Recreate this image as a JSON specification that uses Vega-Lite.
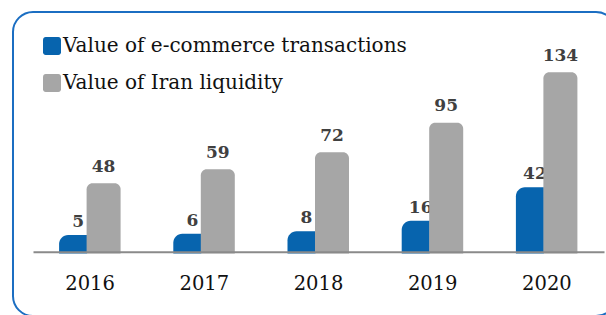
{
  "$schema": "https://vega.github.io/schema/vega-lite/v6.json",
  "width": 603,
  "height": 304,
  "autosize": {"type": "none"},
  "padding": {"left": 13, "top": 12, "right": 0, "bottom": 0},
  "config": {
    "view": {"stroke": "#1B6EC2", "strokeWidth": 2, "cornerRadius": 20},
    "font": "DejaVu Serif"
  },
  "data": {
    "values": [
      {"year": "2016", "series": "Value of e-commerce transactions", "value": 5},
      {"year": "2017", "series": "Value of e-commerce transactions", "value": 6},
      {"year": "2018", "series": "Value of e-commerce transactions", "value": 8},
      {"year": "2019", "series": "Value of e-commerce transactions", "value": 16},
      {"year": "2020", "series": "Value of e-commerce transactions", "value": 42},
      {"year": "2016", "series": "Value of Iran liquidity", "value": 48},
      {"year": "2017", "series": "Value of Iran liquidity", "value": 59},
      {"year": "2018", "series": "Value of Iran liquidity", "value": 72},
      {"year": "2019", "series": "Value of Iran liquidity", "value": 95},
      {"year": "2020", "series": "Value of Iran liquidity", "value": 134}
    ]
  },
  "encoding": {
    "x": {
      "field": "year",
      "type": "ordinal",
      "scale": {"range": [20, 591], "paddingInner": 0.46, "paddingOuter": 0.23},
      "axis": {
        "title": null,
        "labelAngle": 0,
        "domainColor": "#8A8A8A",
        "domainWidth": 2,
        "ticks": false,
        "tickSize": 0,
        "grid": false,
        "labelFont": "DejaVu Serif",
        "labelFontSize": 19.5,
        "labelColor": "#111111",
        "labelPadding": 23,
        "offset": -64.3,
        "zindex": 1
      }
    },
    "color": {
      "field": "series",
      "type": "nominal",
      "scale": {
        "domain": ["Value of e-commerce transactions", "Value of Iran liquidity"],
        "range": ["#0764AE", "#A6A6A6"]
      },
      "legend": {
        "title": null,
        "orient": "none",
        "legendX": 29,
        "legendY": 24,
        "padding": 0,
        "symbolType": "M-0.7,-1H0.7A0.3,0.3 0 0 1 1,-0.7V0.7A0.3,0.3 0 0 1 0.7,1H-0.7A0.3,0.3 0 0 1 -1,0.7V-0.7A0.3,0.3 0 0 1 -0.7,-1Z",
        "symbolSize": 324,
        "symbolStrokeWidth": 0,
        "symbolOpacity": 1,
        "labelFont": "DejaVu Serif",
        "labelFontSize": 20,
        "labelColor": "#111111",
        "labelOffset": 1,
        "labelLimit": 500,
        "rowPadding": 17
      }
    }
  },
  "layer": [
    {
      "transform": [{"filter": "datum.series == 'Value of e-commerce transactions'"}],
      "encoding": {
        "y": {"field": "value", "type": "quantitative", "scale": {"domain": [-57.84, 178]}, "axis": null}
      },
      "layer": [
        {
          "mark": {"type": "bar", "width": 28, "xOffset": -17, "cornerRadiusTopLeft": 9},
          "encoding": {"y2": {"datum": -9.35}}
        },
        {
          "mark": {"type": "text", "xOffset": -12, "dy": -8, "baseline": "alphabetic", "fontSize": 17, "fontWeight": "bold", "font": "DejaVu Serif"},
          "encoding": {"text": {"field": "value", "type": "quantitative"}, "color": {"value": "#404040"}}
        }
      ]
    },
    {
      "transform": [{"filter": "datum.series == 'Value of Iran liquidity'"}],
      "encoding": {
        "y": {"field": "value", "type": "quantitative", "scale": {"domain": [-54.76, 180.72]}, "axis": null}
      },
      "layer": [
        {
          "mark": {"type": "bar", "width": 34, "xOffset": 13.5, "cornerRadiusTopLeft": 6, "cornerRadiusTopRight": 6},
          "encoding": {"y2": {"datum": -6.35}}
        },
        {
          "mark": {"type": "text", "xOffset": 13.5, "dy": -11.6, "baseline": "alphabetic", "fontSize": 17, "fontWeight": "bold", "font": "DejaVu Serif"},
          "encoding": {"text": {"field": "value", "type": "quantitative"}, "color": {"value": "#404040"}}
        }
      ]
    }
  ],
  "resolve": {"scale": {"y": "independent"}}
}
